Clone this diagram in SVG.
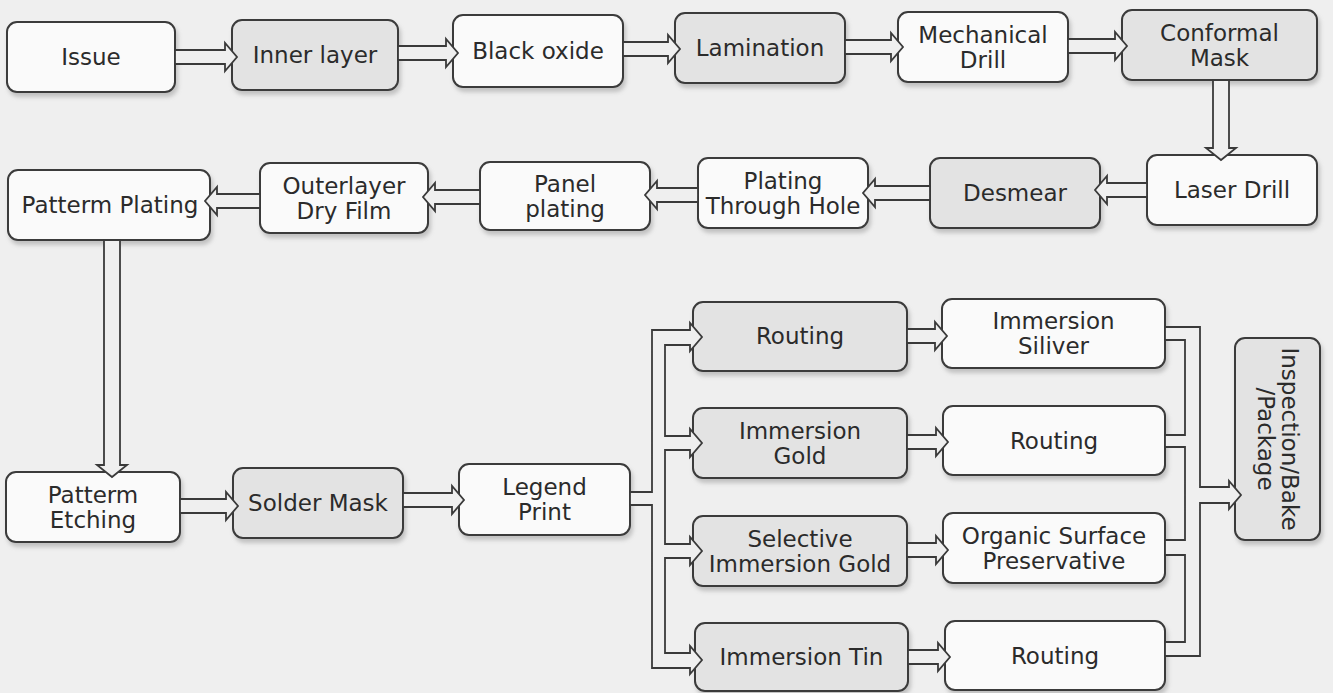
<svg xmlns="http://www.w3.org/2000/svg" width="1333" height="693" viewBox="0 0 1333 693">
<defs>
<filter id="sh" x="-10%" y="-10%" width="120%" height="140%">
<feDropShadow dx="2" dy="4" stdDeviation="2" flood-color="#8a8a8a" flood-opacity="0.45"/>
</filter>
<style>
.box{stroke:#3a3a3a;stroke-width:2;filter:url(#sh)}
.w{fill:#fafafa}
.g{fill:#e3e3e3}
text{font-family:"DejaVu Sans","Liberation Sans",sans-serif;font-size:23px;fill:#2b2b2b;text-anchor:middle}
.arr{fill:#efefef;stroke:#3a3a3a;stroke-width:1.8;stroke-linejoin:miter}
</style>
</defs>
<rect width="1333" height="693" fill="#efefef"/>

<g id="issue"><rect class="box w" x="7" y="22" width="168" height="70" rx="10"/><text x="91" y="65">Issue</text></g>
<g id="inner-layer"><rect class="box g" x="232" y="20" width="166" height="70" rx="10"/><text x="315" y="63">Inner layer</text></g>
<g id="black-oxide"><rect class="box w" x="453" y="15" width="170" height="72" rx="10"/><text x="538" y="59">Black oxide</text></g>
<g id="lamination"><rect class="box g" x="675" y="13" width="170" height="70" rx="10"/><text x="760" y="56">Lamination</text></g>
<g id="mechanical-drill"><rect class="box w" x="898" y="12" width="170" height="70" rx="10"/><text x="983" y="42.5">Mechanical</text><text x="983" y="67.5">Drill</text></g>
<g id="conformal-mask"><rect class="box g" x="1122" y="10" width="195" height="70" rx="10"/><text x="1219.5" y="40.5">Conformal</text><text x="1219.5" y="65.5">Mask</text></g>

<g id="laser-drill"><rect class="box w" x="1147" y="155" width="170" height="70" rx="10"/><text x="1232" y="198">Laser Drill</text></g>
<g id="desmear"><rect class="box g" x="930" y="158" width="170" height="70" rx="10"/><text x="1015" y="201">Desmear</text></g>
<g id="plating-through-hole"><rect class="box w" x="698" y="158" width="170" height="70" rx="10"/><text x="783" y="188.5">Plating</text><text x="783" y="213.5">Through Hole</text></g>
<g id="panel-plating"><rect class="box w" x="480" y="162" width="170" height="68" rx="10"/><text x="565" y="191.5">Panel</text><text x="565" y="216.5">plating</text></g>
<g id="outerlayer-dry-film"><rect class="box w" x="260" y="163" width="168" height="70" rx="10"/><text x="344" y="193.5">Outerlayer</text><text x="344" y="218.5">Dry Film</text></g>
<g id="patterm-plating"><rect class="box w" x="8" y="170" width="202" height="70" rx="10"/><text x="110" y="213">Patterm Plating</text></g>

<g id="patterm-etching"><rect class="box w" x="6" y="472" width="174" height="70" rx="10"/><text x="93" y="502.5">Patterm</text><text x="93" y="527.5">Etching</text></g>
<g id="solder-mask"><rect class="box g" x="233" y="468" width="170" height="70" rx="10"/><text x="318" y="511">Solder Mask</text></g>
<g id="legend-print"><rect class="box w" x="459" y="464" width="171" height="71" rx="10"/><text x="544.5" y="495">Legend</text><text x="544.5" y="520">Print</text></g>

<g id="routing-1"><rect class="box g" x="693" y="302" width="214" height="69" rx="10"/><text x="800" y="344">Routing</text></g>
<g id="immersion-gold"><rect class="box g" x="693" y="408" width="214" height="70" rx="10"/><text x="800" y="438.5">Immersion</text><text x="800" y="463.5">Gold</text></g>
<g id="selective-immersion-gold"><rect class="box g" x="693" y="516" width="214" height="70" rx="10"/><text x="800" y="546.5">Selective</text><text x="800" y="571.5">Immersion Gold</text></g>
<g id="immersion-tin"><rect class="box g" x="695" y="623" width="213" height="68" rx="10"/><text x="801.5" y="665">Immersion Tin</text></g>

<g id="immersion-siliver"><rect class="box w" x="942" y="299" width="223" height="69" rx="10"/><text x="1053.5" y="329">Immersion</text><text x="1053.5" y="354">Siliver</text></g>
<g id="routing-2"><rect class="box w" x="943" y="406" width="222" height="69" rx="10"/><text x="1054" y="448.5">Routing</text></g>
<g id="organic-surface-preservative"><rect class="box w" x="943" y="513" width="222" height="70" rx="10"/><text x="1054" y="543.5">Organic Surface</text><text x="1054" y="568.5">Preservative</text></g>
<g id="routing-3"><rect class="box w" x="945" y="621" width="220" height="69" rx="10"/><text x="1055" y="663.5">Routing</text></g>

<g id="inspection-bake-package"><rect class="box g" x="1235" y="338" width="85" height="202" rx="10"/>
<g transform="translate(1277.5 439) rotate(90)"><text x="0" y="-4">Inspection/Bake</text><text x="0" y="20">/Package</text></g></g>

<g id="connectors">
<path class="arr" d="M175,50 H225 V43 L237,57 L225,71 V64 H175 Z"/>
<path class="arr" d="M398,46 H446 V39 L458,53 L446,67 V60 H398 Z"/>
<path class="arr" d="M623,42 H668 V35 L680,49 L668,63 V56 H623 Z"/>
<path class="arr" d="M845,40 H891 V33 L903,47 L891,61 V54 H845 Z"/>
<path class="arr" d="M1068,39 H1115 V32 L1127,46 L1115,60 V53 H1068 Z"/>
<path class="arr" d="M1213,80 V148 H1206 L1221,160 L1236,148 H1229 V80 Z"/>
<path class="arr" d="M1147,183 H1107 V176 L1095,190 L1107,204 V197 H1147 Z"/>
<path class="arr" d="M930,186 H875 V179 L863,193 L875,207 V200 H930 Z"/>
<path class="arr" d="M698,188 H657 V181 L645,195 L657,209 V202 H698 Z"/>
<path class="arr" d="M480,190 H435 V183 L423,197 L435,211 V204 H480 Z"/>
<path class="arr" d="M260,194 H217 V187 L205,201 L217,215 V208 H260 Z"/>
<path class="arr" d="M104,240 V465 H97 L112,477 L127,465 H120 V240 Z"/>
<path class="arr" d="M180,499 H226 V492 L238,506 L226,520 V513 H180 Z"/>
<path class="arr" d="M403,493 H452 V486 L464,500 L452,514 V507 H403 Z"/>
<path class="arr" d="M630,492 H652 V330 H690 V323 L702,337 L690,351 V345 H665 V436 H690 V429 L702,443 L690,457 V450 H665 V544 H690 V537 L702,551 L690,565 V558 H665 V653 H690 V646 L702,660 L690,674 V668 H652 V505 H630 Z"/>
<path class="arr" d="M907,329 H935 V322 L947,336 L935,350 V343 H907 Z"/>
<path class="arr" d="M907,435 H936 V428 L948,442 L936,456 V449 H907 Z"/>
<path class="arr" d="M907,543 H936 V536 L948,550 L936,564 V557 H907 Z"/>
<path class="arr" d="M908,650 H938 V643 L950,657 L938,671 V664 H908 Z"/>
<path class="arr" d="M1165,327 H1200 V487 H1229 V481 L1241,495 L1229,509 V503 H1200 V656 H1165 V642 H1185 V555 H1165 V540 H1185 V447 H1165 V435 H1185 V340 H1165 Z"/>
</g>
</svg>
